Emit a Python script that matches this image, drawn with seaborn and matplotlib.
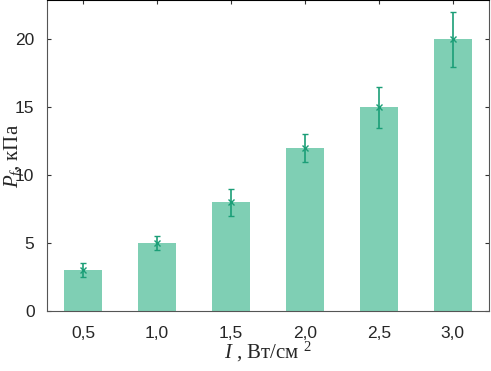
import pandas as pd
import matplotlib
matplotlib.use('Agg')
import matplotlib.pyplot as plt
import seaborn as sns

intensity = ['0,5', '1,0', '1,5', '2,0', '2,5', '3,0']
pressure = [3, 5, 8, 12, 15, 20]
pressure_err = [0.5, 0.5, 1.0, 1.0, 1.5, 2.0]

BAR_COLOR = '#7fcfb4'
ERR_COLOR = '#1b9e77'

sns.set_style('ticks')
plt.rcParams['font.family'] = ['Liberation Sans', 'DejaVu Sans']
plt.rcParams['mathtext.fontset'] = 'custom'
plt.rcParams['mathtext.it'] = 'Liberation Serif:italic'
plt.rcParams['mathtext.rm'] = 'Liberation Serif'

df = pd.DataFrame({'I': intensity, 'P': pressure, 'err': pressure_err})

fig = plt.figure(figsize=(4.91, 3.71), dpi=100)
ax = fig.add_axes([47 / 491, 60 / 371, 442 / 491, 311 / 371])

sns.barplot(data=df, x='I', y='P', color=BAR_COLOR, saturation=1, width=0.51,
            errorbar=None, linewidth=0, ax=ax)
ax.errorbar(range(len(df)), df['P'], yerr=df['err'], fmt='x', color=ERR_COLOR,
            ecolor=ERR_COLOR, elinewidth=1.2, capsize=2, markersize=5, mew=1)

ax.set_xlim(-0.49, 5.49)
ax.set_ylim(0, 22.9)
ax.set_yticks([0, 5, 10, 15, 20])
ax.tick_params(direction='in', top=True, right=True, labelsize=12.5, length=3,
               color='#333333')
ax.tick_params(axis='y', pad=9)
ax.tick_params(axis='x', pad=11)
for side in ['left', 'bottom', 'right']:
    ax.spines[side].set_color('#555555')
ax.spines['top'].set_color('black')

ax.set_xlabel('$I$ , Вт/см $^{2}$', family='Liberation Serif', size=15, labelpad=-1)
ax.set_ylabel('$P_f$, кПа', family='Liberation Serif', size=15, labelpad=-8)

fig.savefig('out.png', dpi=100)
